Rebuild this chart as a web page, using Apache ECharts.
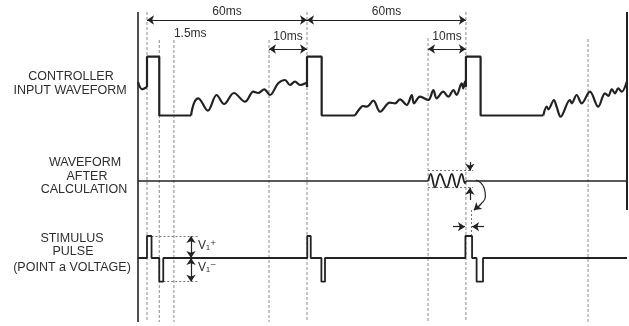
<!DOCTYPE html>
<html>
<head>
<meta charset="utf-8">
<script src="https://cdn.jsdelivr.net/npm/echarts@6/dist/echarts.min.js"></script>
<style>
  html, body { margin: 0; padding: 0; background: #fff; }
  #main { width: 629px; height: 326px; }
</style>
</head>
<body>
<div id="main"></div>
<script>
// time in ms (schematic), levels relative to each trace baseline
var inputWaveA = [[-3.375,33.5],[-1.8,26.2],[0,28.5]];
var inputWaveB = [[16.5,0],[17.7,12.8],[19.2,17.2],[22.8,4.8],[26.1,20.5],[28.9,11.5],[32.6,22.5],[36.75,13.8],[39.9,23.8],[41.6,22.5],[44.0,26.2],[46.1,20.5],[49.2,32.2],[51.75,35.5],[53.6,30.5],[55.5,33.8],[57.4,30.5],[59.9,32.8],[60,28.5]];
var inputWaveC = [[78,0],[79.9,7.2],[81,9.5],[82.4,8.8],[84.9,14.8],[87.4,3.8],[91.1,12.8],[93,12.2],[94.9,16.2],[97.4,10.5],[99.3,20.5],[100.1,12.2],[102.4,18.8],[105.5,15.5],[107.4,25.5],[108.6,17.2],[111.1,23.8],[113,18.8],[114.9,25.5],[116.1,20.5],[118,32.2],[118.6,27.2],[119.25,33.8],[119.6,28.8]];
var inputWaveD = [[148.6,0],[149.9,8.8],[150.5,6.2],[152.6,15.5],[153.6,8.8],[155.1,-1.2],[158.6,15.5],[159.3,12.2],[161.1,20.5],[163,12.2],[166.1,23.8],[169.2,8.8],[171.75,22.2],[173,19.5],[174.3,26.2],[175.5,22.2],[176.7,27.2],[178,23.8],[179.9,33.8]];
var inputSquare1 = [[0,28.5],[0,58.8],[4.6,58.8],[4.6,0],[16.5,0]];
var inputSquare2 = [[60,28.5],[60,58.8],[65.5,58.8],[65.5,0],[78,0]];
var inputSquare3 = [[119.6,28.8],[119.6,58.8],[125.1,58.8],[125.1,0],[148.6,0]];

var calcFlat1 = [[-3.375,0],[105.5,0]];
var calcRipple = [[105.5,0],[106.4,7],[108,-6.3],[109.9,7],[112.4,-6.3],[114.3,7],[116.1,-6.3],[118,7],[119.25,-2.3],[119.6,0]];
var calcFlat2 = [[119.6,0],[180,0]];
var calcCurve = [[123.4,1],[126.4,-7],[126.9,-15],[125.25,-23],[122.6,-29]];

var stimulus = [[-3.375,0],[0,0],[0,22],[1.7,22],[1.7,0],[4.6,0],[4.6,-23.7],[6.1,-23.7],[6.1,0],[60.1,0],[60.1,22],[61.4,22],[61.4,0],[65.4,0],[65.4,-23.7],[66.75,-23.7],[66.75,0],[119.4,0],[119.4,22],[121.9,22],[121.9,0],[123.6,0],[123.6,-23.7],[126,-23.7],[126,0],[180,0]];

var guideTimes = [0, 4.6, 10.1, 45.75, 60, 105.4, 119.6, 165.4];
var guideTops = [314, 286, 286, 286, 314, 288, 314, 287];

var spanLabels = ['60ms', '60ms', '10ms', '10ms'];
var spanFrom = [0, 60, 45.75, 105.4];
var spanTo = [60, 119.6, 60, 119.6];

var inputBase = 210.5, calcBase = 145, stimBase = 68;
var ink = '#222', grey = '#8c8c8c', textCol = '#2e2e2e';

var chart = echarts.init(document.getElementById('main'));

function path(points, base, width, smooth) {
  return {
    type: 'line', data: points.map(function (p) { return [p[0], base + p[1]]; }),
    symbol: 'none', clip: false, smooth: smooth || false, silent: true,
    lineStyle: { color: ink, width: width }, z: 5
  };
}
function seg(x1, y1, x2, y2, style, sym, extra) {
  var a = { coord: [x1, y1], symbol: sym ? sym[0] : 'none', lineStyle: style };
  var b = { coord: [x2, y2], symbol: sym ? sym[1] : 'none' };
  if (extra) Object.assign(a, extra);
  return [a, b];
}

var series = [];
// guide lines
guideTimes.forEach(function (t, i) {
  series.push({ type: 'line', data: [[t, guideTops[i]], [t, 4]], symbol: 'none', clip: false, silent: true,
    lineStyle: { color: grey, width: 1, type: [3, 2] }, z: 1 });
});
// frame lines
series.push({ type: 'line', data: [[-3.375, 314], [-3.375, 4]], symbol: 'none', clip: false, silent: true, lineStyle: { color: ink, width: 1.6 }, z: 2 });
series.push({ type: 'line', data: [[180, 314], [180, 116]], symbol: 'none', clip: false, silent: true, lineStyle: { color: ink, width: 2 }, z: 2 });

[inputWaveA, inputWaveB, inputWaveC, inputWaveD].forEach(function (w) { series.push(path(w, inputBase, 2.2, 0.35)); });
[inputSquare1, inputSquare2, inputSquare3].forEach(function (w) { series.push(path(w, inputBase, 2.2)); });
series.push(path(calcFlat1, calcBase, 1.6));
series.push(path(calcRipple, calcBase, 1.8, 0.4));
series.push(path(calcFlat2, calcBase, 1.6));
series.push(path(stimulus, stimBase, 1.8));
series.push(path(calcCurve, calcBase, 1.2, 0.6));

var arrowStyle = { color: ink, width: 1.2, type: 'solid' };
var dotStyle = { color: '#777', width: 1, type: [2, 2] };
var mlData = [];
spanLabels.forEach(function (s, i) {
  var y = s === '60ms' ? 306 : 277;
  mlData.push(seg(spanFrom[i], y, spanTo[i], y, arrowStyle, ['arrow', 'arrow'],
    { label: { show: true, formatter: s, position: 'insideMiddleTop', distance: s === '60ms' ? 2 : 6,
      color: textCol, fontSize: 12, fontFamily: 'Liberation Sans, Arial, sans-serif' } }));
});
// V1 amplitude arrows
mlData.push(seg(16.5, stimBase, 16.5, stimBase + 22, arrowStyle, ['arrow', 'arrow']));
mlData.push(seg(16.5, stimBase, 16.5, stimBase - 23.7, arrowStyle, ['arrow', 'arrow']));
mlData.push(seg(1.7, stimBase + 22, 19.1, stimBase + 22, dotStyle));
mlData.push(seg(6.1, stimBase - 23.7, 19.1, stimBase - 23.7, dotStyle));
// ripple band
mlData.push(seg(105.4, calcBase + 10.3, 122.25, calcBase + 10.3, dotStyle));
mlData.push(seg(105.4, calcBase - 6.7, 122.25, calcBase - 6.7, dotStyle));
mlData.push(seg(121.1, calcBase + 19, 121.1, calcBase + 10.3, arrowStyle, ['none', 'arrow']));
mlData.push(seg(121.1, calcBase - 19, 121.1, calcBase - 6.7, arrowStyle, ['none', 'arrow']));
mlData.push(seg(121.75, stimBase + 48, 121.75, stimBase + 22, dotStyle));
// arrowhead at the end of the curved arrow
var c1 = calcCurve[calcCurve.length - 2], c2 = calcCurve[calcCurve.length - 1];
mlData.push(seg((c1[0] + c2[0]) / 2, calcBase + (c1[1] + c2[1]) / 2, c2[0], calcBase + c2[1], arrowStyle, ['none', 'arrow']));
// delay arrows
mlData.push(seg(114.75, stimBase + 31.3, 119.25, stimBase + 31.3, arrowStyle, ['none', 'arrow']));
mlData.push(seg(126.4, stimBase + 31.3, 121.9, stimBase + 31.3, arrowStyle, ['none', 'arrow']));

series.push({
  type: 'line', data: [], symbol: 'none', silent: true,
  markLine: { silent: true, symbolSize: 7, data: mlData, label: { show: false }, animation: false }
});

// small text notes
series.push({
  type: 'scatter', symbolSize: 0, silent: true, z: 6,
  itemStyle: { opacity: 1 },
  data: [[10.1, 292, '1.5ms'], [19.1, 80, 'V\u2081\u207A'], [19.1, 58, 'V\u2081\u207B']],
  label: { show: true, position: 'right', distance: 0, color: textCol, opacity: 1, fontSize: 12,
    fontFamily: 'Liberation Sans, DejaVu Sans, Arial, sans-serif',
    formatter: function (p) { return p.value[2]; } }
});

var leftLabels = [
  ['CONTROLLER', 71, 77], ['INPUT WAVEFORM', 70, 91],
  ['WAVEFORM', 85, 163], ['AFTER', 87, 177], ['CALCULATION', 84, 190],
  ['STIMULUS', 72, 239], ['PULSE', 73, 252], ['(POINT a VOLTAGE)', 72, 268]
];

chart.setOption({
  animation: false,
  backgroundColor: '#fff',
  grid: { left: 138, right: 2, top: 0, bottom: 0 },
  xAxis: { type: 'value', min: -3.375, max: 180, show: false },
  yAxis: { type: 'value', min: 0, max: 326, show: false },
  graphic: leftLabels.map(function (l) {
    return { type: 'text', x: l[1], y: l[2], style: { text: l[0], fill: textCol, fontSize: 12.5,
      fontFamily: 'Liberation Sans, Arial, sans-serif', align: 'center', verticalAlign: 'middle' } };
  }),
  series: series
});
</script>
</body>
</html>
